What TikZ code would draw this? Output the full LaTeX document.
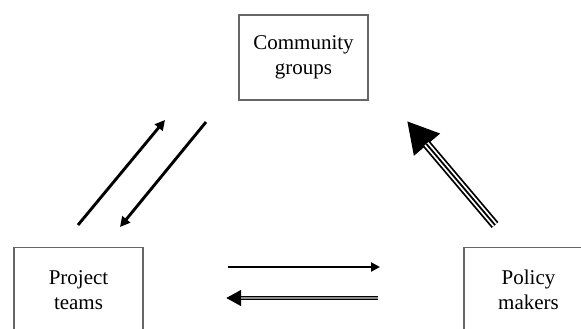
\documentclass[tikz,border=0pt]{standalone}
\usepackage{fontspec}
\setmainfont{Liberation Serif}
\usetikzlibrary{arrows.meta}
\begin{document}
\begin{tikzpicture}[x=1pt,y=-1pt,
  box/.style={draw=black!60,line width=1.2pt,minimum width=129pt,minimum height=85pt,inner sep=0pt,
    font=\fontsize{21}{25}\selectfont,align=center,text=black},
  thinarrow/.style={line width=2.9pt,-{Triangle[length=10pt,width=10pt]}},
  dblouter/.style={line width=4.2pt,-{Triangle[length=15pt,width=15pt]}},
  bigouter/.style={line width=9pt,-{Triangle[length=31pt,width=32pt]}}]
\useasboundingbox (0,0) rectangle (581,329);
\clip (0,0) rectangle (581,329);
\fill[white] (0,0) rectangle (581,329);
\node[box] (cg) at (303.5,57.5) {Community\\groups};
\node[box] (pt) at (78.5,290) {Project\\teams};
\node[box] (pm) at (528.5,290) {Policy\\makers};
% left pair
\coordinate (a1s) at (78,225); \coordinate (a1e) at (165,120);
\coordinate (a2s) at (206,122); \coordinate (a2e) at (120,227);
\draw[thinarrow] (a1s) -- (a1e);
\draw[thinarrow] (a2s) -- (a2e);
% bottom pair
\coordinate (b1s) at (228,267); \coordinate (b1e) at (380,267);
\coordinate (b2s) at (378,298); \coordinate (b2e) at (226,298);
\draw[line width=2.6pt,-{Triangle[length=9pt,width=9pt]}] (b1s) -- (b1e);
\draw[dblouter] (b2s) -- (b2e);
\draw[line width=1.4pt,black!45,shorten >=15pt] (b2s) -- (b2e);
% big arrow
\coordinate (cs) at (495,225); \coordinate (ce) at (407,121);
\draw[bigouter] (cs) -- (ce);
\draw[line width=5.4pt,white,shorten >=30pt] (cs) -- (ce);
\draw[line width=1.8pt,black,shorten >=30pt] (cs) -- (ce);
\end{tikzpicture}
\end{document}
